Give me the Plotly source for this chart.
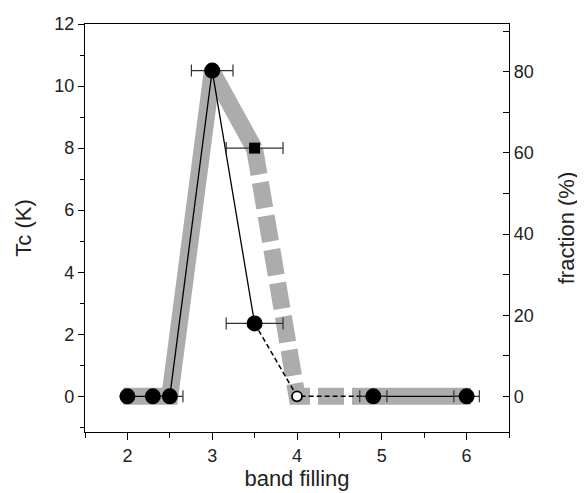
import plotly.graph_objects as go

# ---- data ----
# Tc series (left axis, K)
tc_x = [2.0, 2.3, 2.5, 3.0, 3.5, 4.9, 6.0]
tc_y = [0.0, 0.0, 0.0, 10.5, 2.35, 0.0, 0.0]
tc_xerr = [0.0, 0.0, 0.155, 0.245, 0.335, 0.16, 0.15]

# line segments through Tc points
tc_solid1_x = [2.0, 2.3, 2.5, 3.0, 3.5]
tc_solid1_y = [0.0, 0.0, 0.0, 10.5, 2.35]
tc_dash_x = [3.5, 4.0, 4.9]
tc_dash_y = [2.35, 0.0, 0.0]
tc_solid2_x = [4.9, 6.0]
tc_solid2_y = [0.0, 0.0]

sq_x = [3.5]
sq_y = [8.0]
sq_xerr = [0.335]

open_x = [4.0]
open_y = [0.0]

# fraction series (right axis, %) - thick grey band
fr_a_x = [1.95, 2.5, 3.0]
fr_a_y = [0.0, 0.0, 80.0]
fr_b_x = [3.0, 3.5]
fr_b_y = [80.0, 61.0]
fr_dash_x = [3.5, 4.0, 4.66]
fr_dash_y = [61.0, 0.0, 0.0]
fr_c_x = [4.66, 6.05]
fr_c_y = [0.0, 0.0]

# ticks
x_ticks = [2, 3, 4, 5, 6]
tc_ticks = [0, 2, 4, 6, 8, 10, 12]
fr_ticks = [0, 20, 40, 60, 80]

GREY = "rgb(172,172,172)"
BAND_W = 17
FONT = "Liberation Sans, Arial, sans-serif"
TXT = "#222222"

fig = go.Figure()

# grey band on primary y (fraction, right side) -> drawn underneath
for xs, ys, dash in [(fr_a_x, fr_a_y, "solid"), (fr_b_x, fr_b_y, "solid"),
                     (fr_dash_x, fr_dash_y, "26px,8px"), (fr_c_x, fr_c_y, "solid")]:
    fig.add_trace(go.Scatter(x=xs, y=ys, mode="lines", yaxis="y",
                             line=dict(color=GREY, width=BAND_W, dash=dash),
                             hoverinfo="skip", showlegend=False))

# Tc lines on y2 (left axis), drawn on top
fig.add_trace(go.Scatter(x=tc_solid1_x, y=tc_solid1_y, mode="lines", yaxis="y2",
                         line=dict(color="black", width=1.3), showlegend=False))
fig.add_trace(go.Scatter(x=tc_dash_x, y=tc_dash_y, mode="lines", yaxis="y2",
                         line=dict(color="black", width=1.5, dash="5px,3px"), showlegend=False))
fig.add_trace(go.Scatter(x=tc_solid2_x, y=tc_solid2_y, mode="lines", yaxis="y2",
                         line=dict(color="black", width=1.3), showlegend=False))

fig.add_trace(go.Scatter(x=tc_x, y=tc_y, mode="markers", yaxis="y2",
                         marker=dict(symbol="circle", size=16, color="black"),
                         error_x=dict(type="data", array=tc_xerr, color="#333333",
                                      thickness=1.2, width=6),
                         showlegend=False))
fig.add_trace(go.Scatter(x=sq_x, y=sq_y, mode="markers", yaxis="y2",
                         marker=dict(symbol="square", size=11, color="black"),
                         error_x=dict(type="data", array=sq_xerr, color="#333333",
                                      thickness=1.2, width=6),
                         showlegend=False))
fig.add_trace(go.Scatter(x=open_x, y=open_y, mode="markers", yaxis="y2",
                         marker=dict(symbol="circle", size=10, color="white",
                                     line=dict(color="black", width=1.8)),
                         showlegend=False))

fig.update_layout(
    width=577, height=485,
    margin=dict(l=77, r=76, t=16, b=61),
    paper_bgcolor="white", plot_bgcolor="white",
    font=dict(family=FONT, size=18, color=TXT),
    showlegend=False,
    xaxis=dict(range=[1.5, 6.5], tickvals=x_ticks, ticks="outside", ticklen=7,
               tickwidth=1.3, tickcolor="black", automargin=False,
               minor=dict(dtick=0.5, tick0=1.5, ticks="outside", ticklen=5,
                          tickwidth=1.3, tickcolor="black"),
               showline=True, linecolor="black", linewidth=1.3, mirror=True,
               showgrid=False, zeroline=False,
               title=dict(text="band filling", standoff=2)),
    yaxis=dict(range=[-8.8, 91.8], side="right", tickvals=fr_ticks,
               ticks="inside", ticklen=6, tickwidth=1.3, tickcolor="black",
               automargin=False,
               minor=dict(dtick=10, tick0=0, ticks="inside", ticklen=6,
                          tickwidth=1.3, tickcolor="black"),
               showline=True, linecolor="black", linewidth=1.3,
               showgrid=False, zeroline=False,
               title=dict(text="fraction (%)", standoff=25)),
    yaxis2=dict(range=[-1.15, 12], side="left", overlaying="y", tickvals=tc_ticks,
                ticks="outside", ticklen=6, tickwidth=1.3, tickcolor="black",
                automargin=False,
                minor=dict(dtick=1, tick0=0, ticks="outside", ticklen=4,
                           tickwidth=1.3, tickcolor="black"),
                showline=True, linecolor="black", linewidth=1.3,
                showgrid=False, zeroline=False,
                title=dict(text="Tc (K)", standoff=16)),
)

fig.write_html("out.html")
